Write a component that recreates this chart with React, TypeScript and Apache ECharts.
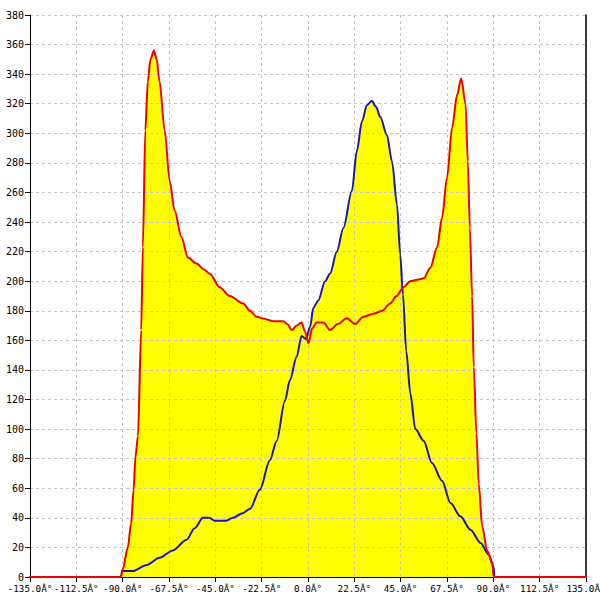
import React, { useEffect, useRef } from "react";
import * as echarts from "echarts";

const xTicks = [-135, -112.5, -90, -67.5, -45, -22.5, 0, 22.5, 45, 67.5, 90, 112.5, 135];

const redAngles = [
  -150, -91, -90, -87.5, -85.9, -84.7, -83.8, -82.6, -81, -80.2, -79, -77.8, -76.5, -74.8, -73.5,
  -72.1, -69.6, -67.2, -64.8, -61.5, -58.3, -54.2, -50.5, -47.7, -42.9, -38, -31.5, -28.2, -25,
  -22.5, -16.9, -12, -10, -7.9, -5.5, -3.1, -1.5, 0.2, 2, 4.2, 7.5, 10.7, 14.5, 18.8, 22.9, 26.9,
  31.8, 36, 39.9, 43, 46.4, 49.7, 53, 56.2, 59.4, 62.7, 65.1, 67.5, 70, 72.4, 74.4, 76.5, 77.6,
  78.6, 79.7, 80.5, 81.8, 82.9, 84.6, 87, 89.5, 90.2, 150,
];
const redValues = [
  0, 0, 5, 20, 36, 59, 81, 95, 167, 223, 302, 335, 350, 356, 350,
  335, 302, 268, 248, 230, 216, 212, 208, 205, 196, 190, 185, 180, 176,
  175, 173, 173, 171, 167, 170, 172, 166, 158, 168, 172, 172, 167, 171, 175, 171, 176,
  178, 180, 185, 190, 196, 200, 201, 202, 209, 223, 243, 270, 304, 326, 337, 320, 281,
  236, 190, 142, 97, 63, 34, 18, 9, 0, 0,
];

const blueAngles = [
  -90.7, -85, -78.6, -72, -65.6, -59.1, -55, -51, -48, -45.3, -40, -36.4, -32, -28.2, -23.4,
  -18.5, -15.2, -11.2, -8.8, -5.5, -3.1, -1, 1, 2.6, 5, 8.3, 10.7, 14, 17.2, 21.3, 23.7, 26.2,
  28.6, 31, 33, 35.1, 38.3, 40.8, 43.2, 44.8, 46.1, 47.7, 49.7, 52.1, 56.2, 60.2, 65.1, 69.2,
  74, 78.9, 83.8, 87.8, 90.2, 90.5,
];
const blueValues = [
  4, 4, 8, 13, 18, 25, 33, 40, 40, 38, 38, 40, 43, 46, 59,
  79, 92, 119, 133, 149, 163, 161, 169, 182, 187, 200, 205, 220, 236, 261, 288, 308,
  319, 322, 318, 311, 299, 281, 252, 218, 191, 153, 124, 100, 92, 77, 65, 50,
  41, 32, 23, 15, 7, 0,
];

const zip = (a: number[], b: number[]) => a.map((x, i) => [x, b[i]]);

export default function App() {
  const ref = useRef<HTMLDivElement>(null);
  useEffect(() => {
    if (!ref.current) return;
    const chart = echarts.init(ref.current, undefined, { renderer: "svg" });
    const font = "DejaVu Sans Mono";
    const red = zip(redAngles, redValues);
    const blue = zip(blueAngles, blueValues);
    const smooth = 0.3;
    const grid = { color: "#c4c4c4", type: [3, 3], width: 1 };
    chart.setOption({
      animation: false,
      backgroundColor: "#ffffff",
      grid: { left: 30, right: 14, top: 15, bottom: 23, outerBoundsMode: "none", containLabel: false },
      xAxis: {
        type: "value",
        min: xTicks[0],
        max: xTicks[xTicks.length - 1],
        interval: 22.5,
        z: 3,
        axisLine: { show: true, onZero: false, lineStyle: { color: "#000", width: 1 } },
        axisTick: { show: true, length: 5, lineStyle: { color: "#000" } },
        axisLabel: {
          color: "#000",
          fontFamily: font,
          fontSize: 9.3,
          margin: 7,
          showMinLabel: true,
          showMaxLabel: true,
          hideOverlap: false,
          alignMinLabel: "center",
          alignMaxLabel: "center",
          formatter: (v: number) => v.toFixed(1) + "Â°",
        },
        splitLine: { show: true, lineStyle: grid },
      },
      yAxis: [
        {
          type: "value",
          min: 0,
          max: 380,
          interval: 20,
          z: 3,
          axisLine: { show: true, onZero: false, lineStyle: { color: "#000", width: 1 } },
          axisTick: { show: true, length: 5, lineStyle: { color: "#000" } },
          axisLabel: {
            color: "#000",
            fontFamily: font,
            fontSize: 10,
            margin: 6,
            showMinLabel: true,
            showMaxLabel: true,
          },
          splitLine: { show: true, lineStyle: grid },
        },
        {
          type: "value",
          position: "right",
          min: 0,
          max: 380,
          interval: 20,
          z: 3,
          axisLine: { show: true, onZero: false, lineStyle: { color: "#000", width: 1.5 } },
          axisTick: { show: false },
          axisLabel: { show: false },
          splitLine: { show: false },
        },
      ],
      series: [
        {
          type: "line",
          data: red,
          smooth,
          smoothMonotone: "x",
          symbol: "none",
          clip: false,
          z: 1,
          lineStyle: { width: 0, color: "#ffff00" },
          areaStyle: { color: "#ffff00", opacity: 1 },
        },
        {
          type: "line",
          data: blue,
          smooth,
          smoothMonotone: "x",
          symbol: "none",
          z: 1,
          lineStyle: { width: 0, color: "#ffff00" },
          areaStyle: { color: "#ffff00", opacity: 1 },
        },
        {
          type: "line",
          data: blue,
          smooth,
          smoothMonotone: "x",
          symbol: "none",
          z: 5,
          lineStyle: { width: 2, color: "#1818b0" },
        },
        {
          type: "line",
          data: red,
          smooth,
          smoothMonotone: "x",
          symbol: "none",
          clip: false,
          z: 6,
          lineStyle: { width: 2, color: "#ee0000" },
        },
      ],
    });
    return () => chart.dispose();
  }, []);
  return (
    <div
      ref={ref}
      style={{ position: "fixed", left: 0, top: 0, width: 600, height: 600 }}
    />
  );
}
